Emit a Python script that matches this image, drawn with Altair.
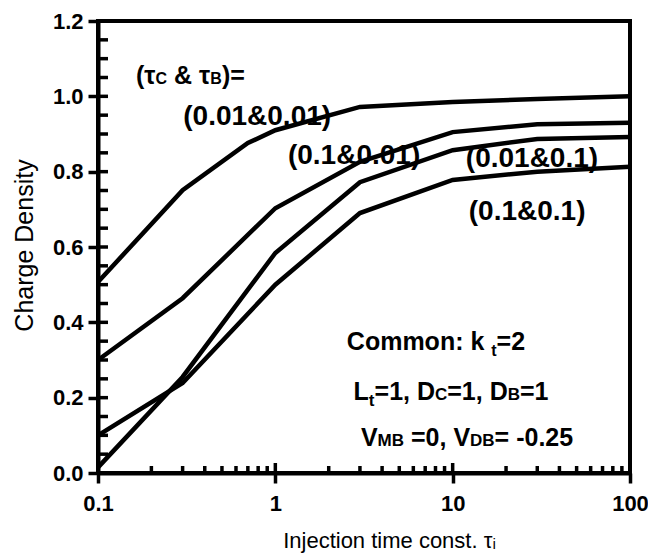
import altair as alt
import pandas as pd

# ---------------- data ----------------
x_s1 = [0.1, 0.3, 0.7, 1, 3, 10, 30, 100]
x_common = [0.1, 0.3, 1, 3, 10, 30, 100]
s1 = [0.507, 0.751, 0.876, 0.910, 0.972, 0.985, 0.993, 1.000]   # (0.01&0.01)
s2 = [0.300, 0.464, 0.703, 0.826, 0.905, 0.926, 0.930]          # (0.1&0.01)
s3 = [0.015, 0.255, 0.584, 0.772, 0.857, 0.887, 0.892]          # (0.01&0.1)
s4 = [0.100, 0.239, 0.500, 0.690, 0.778, 0.800, 0.813]          # (0.1&0.1)
series_names = ["(0.01&0.01)", "(0.1&0.01)", "(0.01&0.1)", "(0.1&0.1)"]

x_major = [0.1, 1, 10, 100]
y_major = [0.0, 0.2, 0.4, 0.6, 0.8, 1.0, 1.2]
y_minor = [0.05, 0.1, 0.15, 0.2, 0.25, 0.3, 0.35, 0.4, 0.45, 0.5, 0.55, 0.6,
           0.65, 0.7, 0.75, 0.8, 0.85, 0.9, 0.95, 1.0, 1.05, 1.1, 1.15]
x_minor = [0.2, 0.3, 0.4, 0.5, 0.6, 0.7, 0.8, 0.9,
           2, 3, 4, 5, 6, 7, 8, 9,
           20, 30, 40, 50, 60, 70, 80, 90]
x_inner_major = [1, 10]

# curve labels: text, x, y (data coords, baseline)
curve_labels = [
    ("(0.01&0.01)", 0.79, 0.924),
    ("(0.1&0.01)", 2.78, 0.820),
    ("(0.01&0.1)", 28.0, 0.812),
    ("(0.1&0.1)", 26.3, 0.672),
]

# composite annotations: pieces (text, role) with role 'm' main / 's' sub / 'sl' lowered sub
annotations = [
    (0.332, 1.033, 25, 16, [("(τ", "m"), ("C", "s"), (" & τ", "m"), ("B", "s"), (")=", "m")]),
    (8.05, 0.3265, 25, 16, [("Common: k ", "m"), ("t", "sl"), ("=2", "m")]),
    (9.79, 0.194, 25, 17, [("L", "m"), ("t", "sl"), ("=1, D", "m"), ("C", "s"), ("=1, D", "m"), ("B", "s"), ("=1", "m")]),
    (12.05, 0.0717, 25, 17, [("V", "m"), ("MB", "s"), (" =0, V", "m"), ("DB", "s"), ("= -0.25", "m")]),
]

FONT = "Liberation Sans"
W, H = 532, 452

xscale = alt.Scale(type="log", domain=[0.1, 100], nice=False)
yscale = alt.Scale(domain=[0, 1.2], nice=False, zero=False)
xaxis = alt.Axis(values=x_major, format="~g", title="Injection time const. τᵢ",
                 titleX=291, titleY=67, titleBaseline="middle", titleAlign="center")
yaxis = alt.Axis(values=y_major, format=".1f", title="Charge Density", titleFontSize=25,
                 titleX=-74, titleY=H / 2 - 2, titleAngle=270, titleBaseline="middle",
                 titleAlign="center")


def X():
    return alt.X("x:Q", scale=xscale, axis=xaxis)


def Y():
    return alt.Y("y:Q", scale=yscale, axis=yaxis)


rows = []
for name, xs, ys in zip(series_names, [x_s1, x_common, x_common, x_common], [s1, s2, s3, s4]):
    for xv, yv in zip(xs, ys):
        rows.append({"x": xv, "y": yv, "series": name})
df = pd.DataFrame(rows)

lines = alt.Chart(df).mark_line(color="black", strokeWidth=4.5, strokeJoin="miter").encode(
    x=X(), y=Y(), detail="series:N", order="x:Q")

# inner ticks
y_in = alt.Chart(pd.DataFrame({"y": y_minor})).mark_rule(color="black", strokeWidth=3.5).encode(
    y=Y(), x=alt.value(0), x2=alt.value(10))
x_in = alt.Chart(pd.DataFrame({"x": x_minor})).mark_rule(color="black", strokeWidth=3.5).encode(
    x=X(), y=alt.value(H), y2=alt.value(H - 7))
x_in2 = alt.Chart(pd.DataFrame({"x": x_inner_major})).mark_rule(color="black", strokeWidth=3.5).encode(
    x=X(), y=alt.value(H), y2=alt.value(H - 10))

layers = [lines, x_in, x_in2, y_in]

for text, xv, yv in curve_labels:
    layers.append(
        alt.Chart(pd.DataFrame({"x": [xv], "y": [yv]})).mark_text(
            text=text, font=FONT, fontSize=28, fontWeight="bold", color="black",
            align="center", baseline="alphabetic").encode(x=X(), y=Y()))

CW = {"(": .333, ")": .333, ".": .278, "&": .722, "=": .584, ",": .278, " ": .278,
      "-": .333, ":": .333, "C": .722, "o": .611, "m": .889, "n": .611, "k": .556,
      "t": .333, "L": .611, "D": .722, "B": .722, "V": .667, "M": .833, "τ": .45}


def tw(s, size):
    return sum(CW.get(c, .556) for c in s) * size


for xv, yv, msize, ssize, pieces in annotations:
    sizes = [msize if r == "m" else ssize for _, r in pieces]
    total = sum(tw(t, s) for (t, _), s in zip(pieces, sizes))
    pos = -total / 2
    for (t, r), s in zip(pieces, sizes):
        lead = len(t) - len(t.lstrip(" "))
        shown = t.strip(" ")
        layers.append(
            alt.Chart(pd.DataFrame({"x": [xv], "y": [yv]})).mark_text(
                text=shown, font=FONT, fontSize=s, fontWeight="bold", color="black",
                align="left", baseline="alphabetic", dx=pos + lead * CW[" "] * s,
                dy=(6 if r == "sl" else 0)).encode(x=X(), y=Y()))
        pos += tw(t, s)

chart = alt.layer(*layers).properties(
    width=W, height=H,
    autosize=alt.AutoSizeParams(type="none"),
    padding={"left": 90, "top": 13, "right": 18, "bottom": 80},
).configure_view(stroke="black", strokeWidth=4).configure_axis(
    grid=False, domainColor="black", domainWidth=4, tickColor="black", tickWidth=3.5,
    tickSize=10, labelFont=FONT, labelFontSize=22, labelFontWeight="bold", labelColor="black",
    labelFlush=False, labelPadding=5, titleFont=FONT, titleFontSize=22, titleFontWeight="normal",
    titleColor="black",
).configure_axisX(labelPadding=10)

chart.save("out.html", embed_options={"renderer": "svg", "actions": False})
